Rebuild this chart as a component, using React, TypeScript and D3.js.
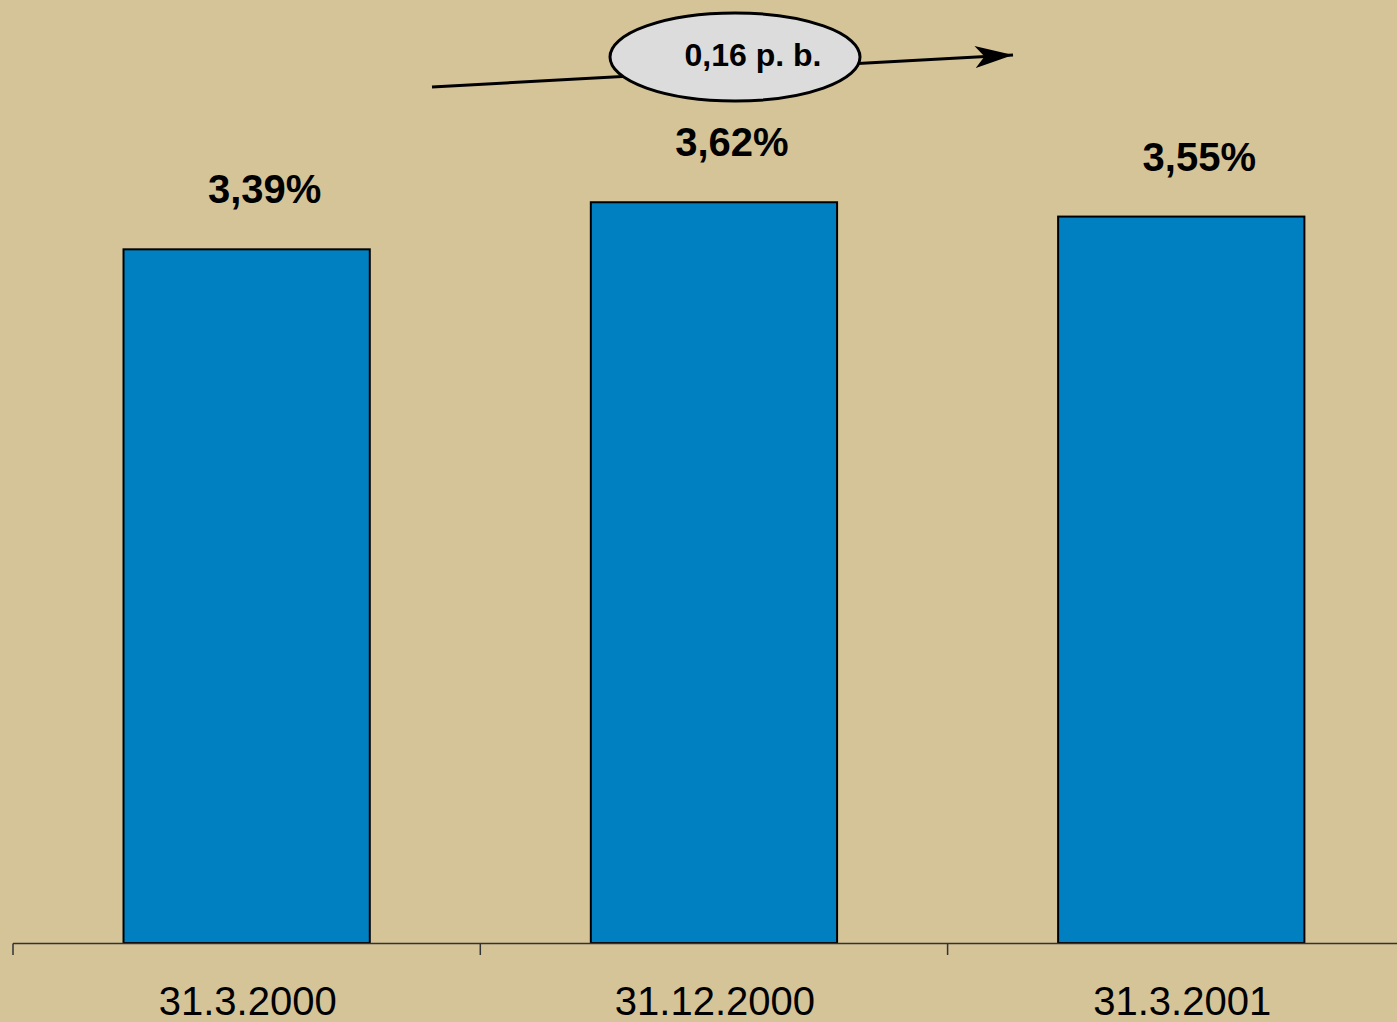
import React from "react";
import * as d3 from "d3";

const categories = ["31.3.2000", "31.12.2000", "31.3.2001"];
const values = [3.39, 3.62, 3.55];
const valueLabels = ["3,39%", "3,62%", "3,55%"];
const changeLabel = "0,16 p. b.";

const W = 1397;
const H = 1022;
const FONT = "'Liberation Sans', Arial, sans-serif";

const App = () => {
  // band scale: one band per date, the 4th tick falls just off the right edge
  const x = d3
    .scaleBand<string>()
    .domain(categories)
    .range([13, 13 + 3 * 467.3])
    .paddingInner(0.473)
    .paddingOuter(0.2365);
  const y = d3.scaleLinear().domain([0, 4]).range([943, 124.5]);

  const band = x.step();
  const ticks = d3.range(categories.length + 1).map(i => 13 + i * band);

  return (
    <svg
      width={W}
      height={H}
      style={{position: "fixed", left: 0, top: 0, background: "#D5C498"}}
    >
      <defs>
        <marker id="head" viewBox="0 0 10 10" refX="10" refY="5"
                markerWidth="38" markerHeight="22" markerUnits="userSpaceOnUse"
                orient="auto" preserveAspectRatio="none">
          <path d="M0,0 L10,5 L0,10 L2.5,5 z" fill="#000"/>
        </marker>
      </defs>
      <rect width={W} height={H} fill="#D5C498"/>

      {categories.map((c, i) => (
        <g key={c}>
          <rect
            x={x(c)}
            y={y(values[i])}
            width={x.bandwidth()}
            height={y(0) - y(values[i])}
            fill="#0080C0"
            stroke="#000"
            strokeWidth={2}
          />
          <text
            x={(x(c) as number) + x.bandwidth() / 2 + 18}
            y={y(values[i]) - 46}
            textAnchor="middle"
            fontFamily={FONT}
            fontWeight="bold"
            fontSize={40}
            fill="#000"
          >
            {valueLabels[i]}
          </text>
          <text
            x={(x(c) as number) + x.bandwidth() / 2 + 1}
            y={1015}
            textAnchor="middle"
            fontFamily={FONT}
            fontSize={40}
            fill="#000"
          >
            {c}
          </text>
        </g>
      ))}

      {/* axis */}
      <line x1={13} x2={W} y1={943.5} y2={943.5} stroke="#333" strokeWidth={1.5}/>
      {ticks.map(t => (
        <line key={t} x1={t} x2={t} y1={943.5} y2={955} stroke="#333" strokeWidth={1.5}/>
      ))}

      {/* change annotation */}
      <line x1={432} y1={87} x2={1013} y2={55} stroke="#000" strokeWidth={3}
            markerEnd="url(#head)"/>
      <ellipse cx={735} cy={57} rx={125} ry={44} fill="#DCDCDC" stroke="#000" strokeWidth={3}/>
      <text x={753} y={66} textAnchor="middle" fontFamily={FONT} fontWeight="bold"
            fontSize={32} fill="#000">
        {changeLabel}
      </text>
    </svg>
  );
};

export default App;
